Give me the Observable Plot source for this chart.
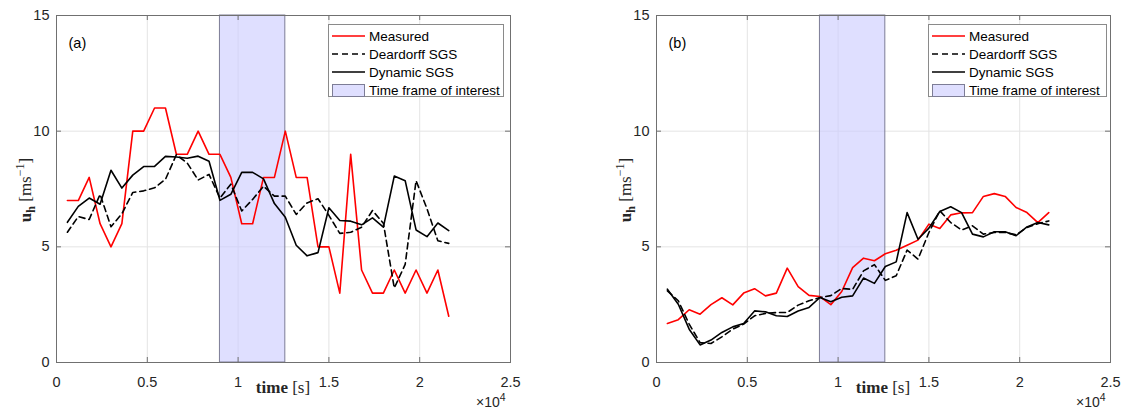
<!DOCTYPE html>
<html>
<head>
<meta charset="utf-8">
<script src="https://cdn.jsdelivr.net/npm/d3@7"></script>
<script src="https://cdn.jsdelivr.net/npm/@observablehq/plot@0.6"></script>
<style>
  html, body { margin: 0; padding: 0; background: #fff; }
  #wrap { position: relative; width: 1126px; height: 411px; overflow: hidden; font-family: "Liberation Sans", Arial, sans-serif; }
  .panel { position: absolute; top: 0; }
  .legend { position: absolute; background: #fff; border: 1px solid #8a8a8a; box-sizing: border-box; padding: 2px 0 0 3px; font-size: 13.5px; color: #000; }
  .legend .row { height: 18px; display: flex; align-items: center; white-space: nowrap; }
  .legend svg { flex: none; margin-right: 4px; }
  .xlab { position: absolute; font-family: "Liberation Serif", "DejaVu Serif", serif; font-size: 17px; color: #262626; transform: translateX(-50%); white-space: nowrap; }
  .ylab { position: absolute; font-family: "Liberation Serif", "DejaVu Serif", serif; font-size: 17px; color: #262626; white-space: nowrap; transform: translate(-50%, -50%) rotate(-90deg); }
  .expo { position: absolute; font-size: 14px; color: #262626; white-space: nowrap; }
  .expo sup { font-size: 10.5px; vertical-align: 6px; }
  .ylab sub { font-size: 12px; }
  .ylab sup { font-size: 12px; }
</style>
</head>
<body>
<div id="wrap"></div>
<script>
// ---- data ----
const time = [600,1200,1800,2400,3000,3600,4200,4800,5400,6000,6600,7200,7800,8400,9000,9600,10200,10800,11400,12000,12600,13200,13800,14400,15000,15600,16200,16800,17400,18000,18600,19200,19800,20400,21000,21600];

const measuredA  = [7,7,8,6,5,6,10,10,11,11,9,9,10,9,9,8,6,6,8,8,10,8,8,5,5,3,9,4,3,3,4,3,4,3,4,2];
const deardorffA = [5.63,6.31,6.18,7.27,5.87,6.43,7.35,7.42,7.55,7.92,8.98,8.62,7.89,8.13,7.11,7.71,6.55,7.05,7.62,7.19,7.19,6.40,6.90,7.08,6.36,5.58,5.63,5.85,6.57,6.02,3.22,4.24,7.86,6.65,5.26,5.15];
const dynamicA   = [6.06,6.75,7.11,6.84,8.31,7.54,8.10,8.47,8.48,8.91,8.88,8.83,8.92,8.70,7.01,7.27,8.22,8.22,7.94,6.87,6.28,5.07,4.61,4.75,6.69,6.14,6.11,5.95,6.25,5.85,8.06,7.86,5.73,5.44,6.03,5.70];

const measuredB  = [1.69,1.85,2.28,2.09,2.50,2.80,2.49,3.00,3.19,2.88,3.00,4.08,3.28,2.90,2.85,2.50,3.07,4.10,4.51,4.40,4.70,4.85,5.07,5.29,5.98,5.79,6.38,6.47,6.48,7.18,7.30,7.18,6.70,6.48,6.05,6.48];
const deardorffB = [3.10,2.67,1.66,0.86,0.82,1.11,1.44,1.66,2.02,2.12,2.16,2.16,2.48,2.67,2.81,2.89,3.20,3.16,3.96,4.23,3.55,3.75,4.86,4.47,5.62,6.56,6.05,5.73,5.91,5.55,5.62,5.62,5.52,5.84,6.00,6.12];
const dynamicB   = [3.17,2.52,1.44,0.76,0.97,1.30,1.54,1.69,2.23,2.19,2.02,1.99,2.23,2.38,2.81,2.63,2.82,2.88,3.65,3.42,4.15,4.35,6.48,5.33,5.81,6.53,6.73,6.48,5.55,5.43,5.65,5.65,5.48,5.86,6.05,5.95];

const shadeStart = [9000];
const shadeEnd   = [12600];

const xTicks = [0,5000,10000,15000,20000,25000];
const xTickLabels = ["0","0.5","1","1.5","2","2.5"];
const yTicks = [0,5,10,15];
const yTickLabels = ["0","5","10","15"];

const seriesNames = ["Measured","Deardorff SGS","Dynamic SGS"];
const shadeName = "Time frame of interest";
const panelTags = ["(a)","(b)"];

// ---- styling ----
const W = 563, H = 411, MT = 15, MB = 49;
const gridColor = "#e4e4e4";
const axisColor = "#707070";
const seriesStyles = [
  {stroke: "#ff0000", dash: null},
  {stroke: "#000000", dash: "6,4"},
  {stroke: "#000000", dash: null}
];
const shadeFill = "#ccccff", shadeOpacity = 0.62, shadeStroke = "#7d7d96";

function makePanel(measured, deardorff, dynamic, tag, mLeft, mRight) {
  const rows = time.map((t, i) => ({t, m: measured[i], d: deardorff[i], y: dynamic[i]}));
  const shade = shadeStart.map((s, i) => ({s, e: shadeEnd[i]}));
  const fw = W - mLeft - mRight, fh = H - MT - MB;
  return Plot.plot({
    width: W, height: H,
    marginTop: MT, marginBottom: MB, marginLeft: mLeft, marginRight: mRight,
    style: {fontFamily: "'Liberation Sans', Arial, sans-serif", fontSize: "14.5px", color: "#262626", background: "transparent", overflow: "visible"},
    x: {domain: [0, 25000], label: null},
    y: {domain: [0, 15], label: null},
    marks: [
      Plot.gridX(xTicks, {stroke: gridColor, strokeOpacity: 1}),
      Plot.gridY(yTicks, {stroke: gridColor, strokeOpacity: 1}),
      Plot.rect(shade, {x1: "s", x2: "e", fill: shadeFill, fillOpacity: shadeOpacity, stroke: shadeStroke, strokeWidth: 1}),
      Plot.line(rows, {x: "t", y: "m", stroke: seriesStyles[0].stroke, strokeWidth: 1.6}),
      Plot.line(rows, {x: "t", y: "d", stroke: seriesStyles[1].stroke, strokeWidth: 1.6, strokeDasharray: seriesStyles[1].dash}),
      Plot.line(rows, {x: "t", y: "y", stroke: seriesStyles[2].stroke, strokeWidth: 1.6}),
      // inward ticks on all four sides
      Plot.tickX(xTicks, {x: d => d, insetTop: fh - 5, stroke: axisColor}),
      Plot.tickX(xTicks, {x: d => d, insetBottom: fh - 5, stroke: axisColor}),
      Plot.tickY(yTicks, {y: d => d, insetRight: fw - 5, stroke: axisColor}),
      Plot.tickY(yTicks, {y: d => d, insetLeft: fw - 5, stroke: axisColor}),
      Plot.frame({stroke: axisColor, strokeWidth: 1}),
      Plot.axisX(xTicks, {anchor: "bottom", tickSize: 0, tickPadding: 14, label: null, fontSize: 14.5, tickFormat: d => xTickLabels[xTicks.indexOf(d)]}),
      Plot.axisY(yTicks, {anchor: "left", tickSize: 0, tickPadding: 7, label: null, fontSize: 14.5, tickFormat: d => yTickLabels[yTicks.indexOf(d)]}),
      Plot.text([tag], {text: d => d, frameAnchor: "top-left", dx: 12, dy: 22, textAnchor: "start", fontSize: 14.5, fill: "#000"})
    ]
  });
}

function legendHTML(left, top, width) {
  let html = `<div class="legend" style="left:${left}px;top:${top}px;width:${width}px;height:73px">`;
  seriesNames.forEach((name, i) => {
    const s = seriesStyles[i];
    html += `<div class="row"><svg width="33" height="10"><line x1="0" x2="33" y1="5" y2="5" stroke="${s.stroke}" stroke-width="1.6"${s.dash ? ` stroke-dasharray="${s.dash}"` : ""}/></svg><span>${name}</span></div>`;
  });
  html += `<div class="row"><svg width="33" height="13"><rect x="0.5" y="0.5" width="32" height="12" fill="${shadeFill}" fill-opacity="${shadeOpacity}" stroke="${shadeStroke}"/></svg><span>${shadeName}</span></div>`;
  html += `</div>`;
  return html;
}

const wrap = document.getElementById("wrap");
const panels = [
  {data: [measuredA, deardorffA, dynamicA], left: 0, mLeft: 56, mRight: 53, legendLeft: 328, legendW: 176},
  {data: [measuredB, deardorffB, dynamicB], left: 563, mLeft: 93, mRight: 16, legendLeft: 928, legendW: 179}
];
panels.forEach((p, k) => {
  const div = document.createElement("div");
  div.className = "panel";
  div.style.left = p.left + "px";
  div.appendChild(makePanel(p.data[0], p.data[1], p.data[2], panelTags[k], p.mLeft, p.mRight));
  wrap.appendChild(div);
  const frameL = p.left + p.mLeft, frameR = p.left + W - p.mRight;
  const cx = (frameL + frameR) / 2;
  wrap.insertAdjacentHTML("beforeend",
    `<div class="xlab" style="left:${cx}px;top:378px"><b>time</b> [s]</div>` +
    `<div class="ylab" style="left:${frameL - 30}px;top:190px"><b>u<sub>h</sub></b> [ms<sup>−1</sup>]</div>` +
    `<div class="expo" style="left:${frameR - 34}px;top:391px">×10<sup>4</sup></div>` +
    legendHTML(p.legendLeft, 24, p.legendW));
});
</script>
</body>
</html>
